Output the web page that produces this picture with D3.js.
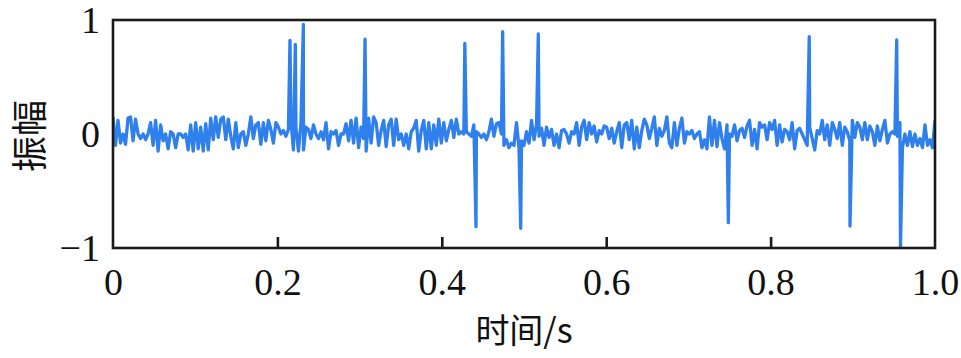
<!DOCTYPE html>
<html><head><meta charset="utf-8">
<script src="https://cdn.jsdelivr.net/npm/d3@7"></script>
<style>body{margin:0;background:#fff}</style>
</head><body><svg id="c" width="961" height="358"></svg>
<script>
// noise samples, evenly spaced from t=0 to t=1
const noise = [
 0.15,-0.1,0.12,-0.08,0,-0.09,0.14,0.15,-0.06,0.13,0,-0.04,0,-0.05,0,0.1,-0.1,0.12,-0.15,0.08,
 -0.06,0,-0.13,0.02,0,-0.12,0,0,-0.03,0,-0.14,0.08,-0.15,0.1,-0.13,0.06,-0.15,0.09,-0.14,0.14,
 -0.05,0.15,-0.03,0.13,0.15,-0.05,0.13,-0.02,-0.13,0.1,-0.12,0,0.02,-0.1,0,0.15,-0.04,0.08,0.1,-0.09,
 0.1,-0.06,0.12,0.04,-0.08,0.1,0.06,0,0.03,-0.02,0.04,0.12,-0.14,0.05,-0.15,0.1,-0.14,0.06,0.04,-0.04,
 0.08,0,-0.04,0.02,-0.05,0.1,-0.13,0.02,0,0.03,-0.1,0,0,0.09,-0.06,0.12,-0.08,0.14,-0.12,0.06,
 -0.04,-0.15,0.14,-0.08,0.15,0.1,-0.1,0.03,0.12,-0.11,0.08,0.13,-0.1,0.13,-0.05,0,-0.1,0,-0.13,0.02,
 0.05,0.12,-0.15,0.03,0.12,-0.13,0.1,-0.13,0.08,-0.1,0.13,-0.08,0.1,-0.06,0.04,0.12,-0.03,0.13,0,0.02,
 0,0.02,0,-0.02,0.08,0.02,0,-0.03,0,-0.05,0.02,0.13,-0.02,0.09,0.1,0,-0.1,-0.05,-0.12,-0.08,
 -0.1,0.1,-0.12,-0.06,-0.1,0.02,-0.08,0.12,-0.05,0.08,-0.02,0.05,-0.1,0.06,-0.03,0.04,-0.1,0,-0.12,0.03,
 0.04,0,-0.08,0.02,0,0.1,-0.1,0.06,0.12,-0.05,0.1,0,0.07,-0.07,0.03,0,0.07,0.06,-0.04,0.05,
 -0.08,0.02,0.1,-0.12,0.08,0.1,-0.05,0.12,-0.13,0.06,-0.12,0.03,0.13,0.08,-0.04,0.05,0.15,-0.1,0.05,-0.02,
 0.03,0.15,-0.08,-0.12,0.1,-0.1,0.05,0.14,-0.08,0.02,0,0.03,-0.04,0,0.02,-0.12,-0.05,-0.13,0.15,-0.1,
 0.12,-0.11,0.1,-0.04,-0.13,0.08,0,-0.02,0.08,-0.06,0.03,0.05,-0.03,0.07,0.12,-0.1,0.04,-0.13,0.1,0.06,
 0.08,-0.05,0.1,0.04,0.12,-0.1,0.08,-0.07,0.04,0.02,-0.05,0.1,-0.13,0.03,0.05,0,-0.05,-0.1,0.06,-0.04,
 -0.14,0.03,0,0.12,-0.05,0.08,-0.1,0.1,0.04,-0.04,0.1,-0.1,0.06,0.02,-0.06,0.12,-0.03,0.1,0.06,-0.05,
 0.1,-0.05,0.07,0.02,-0.1,0.07,-0.06,0.04,0.12,-0.08,0,0.02,0,-0.02,0.1,-0.12,0,-0.1,0.02,-0.11,
 0,-0.1,-0.04,-0.12,0.08,-0.1,-0.05,-0.12,0.12
];
// impulse spikes
const spikeTimes  = [0.2153,0.2218,0.2316,0.3066,0.428,0.4416,0.474,0.496,0.5174,0.7486,0.847,0.8966,0.9534,0.958];
const spikeValues = [0.82,0.787,0.962,0.833,0.795,-0.813,0.897,-0.827,0.877,-0.778,0.854,-0.807,0.825,-1.0];
const xTicks = [0,0.2,0.4,0.6,0.8,1.0];
const xTickLabels = ["0","0.2","0.4","0.6","0.8","1.0"];
const yTicks = [-1,0,1];
const yTickLabels = ["\u22121","0","1"];
const xTitle = "时间/s";
const yTitle = "振幅";

const svg = d3.select("#c");
const L=113,R=935,T=20,B=248;
const x = d3.scaleLinear().domain([0,1]).range([L,R]);
const y = d3.scaleLinear().domain([-1,1]).range([B,T]);

const pts = noise.map((v,i)=>({t:i/(noise.length-1),v}));
spikeTimes.forEach((t,i)=>pts.push({t,v:spikeValues[i]}));
pts.sort((a,b)=>a.t-b.t);

svg.append("clipPath").attr("id","cp").append("rect")
  .attr("x",L).attr("y",T).attr("width",R-L).attr("height",B-T);

svg.append("path").datum(pts)
  .attr("clip-path","url(#cp)")
  .attr("fill","none").attr("stroke","#2f80ed").attr("stroke-width",3.3)
  .attr("stroke-linejoin","round")
  .attr("d",d3.line().x(d=>x(d.t)).y(d=>y(d.v)));

// frame
svg.append("rect").attr("x",L).attr("y",T).attr("width",R-L).attr("height",B-T)
  .attr("fill","none").attr("stroke","#1a1a1a").attr("stroke-width",2.6);

// bottom axis (ticks inward)
const xa = svg.append("g").attr("transform",`translate(0,${B})`)
  .call(d3.axisBottom(x).tickValues(xTicks).tickSizeInner(-11).tickSizeOuter(0)
    .tickFormat((d,i)=>xTickLabels[i]).tickPadding(24));
xa.select(".domain").remove();
xa.selectAll("line").attr("stroke","#1a1a1a").attr("stroke-width",2.6)
  .filter((d)=>d===0||d===1).remove();
xa.selectAll("text").attr("font-family","'Liberation Serif','Times New Roman',serif")
  .attr("font-size",38).attr("fill","#111").attr("dy",null).attr("y",47);

// left axis labels
const ya = svg.append("g").attr("transform",`translate(${L},0)`)
  .call(d3.axisLeft(y).tickValues(yTicks).tickSize(0)
    .tickFormat((d,i)=>yTickLabels[i]).tickPadding(13));
ya.select(".domain").remove();
ya.selectAll("text").attr("font-family","'Liberation Serif','Times New Roman',serif")
  .attr("font-size",38).attr("fill","#111").attr("dy","0.33em");

svg.append("text").attr("x",(L+R)/2).attr("y",343).attr("text-anchor","middle")
  .attr("font-family","'Noto Sans CJK SC',sans-serif").attr("font-size",34).attr("fill","#111")
  .text(xTitle);
svg.append("text").attr("transform",`translate(27,136) rotate(-90)`).attr("text-anchor","middle")
  .attr("dominant-baseline","central")
  .attr("font-family","'Noto Sans CJK SC',sans-serif").attr("font-size",36).attr("fill","#111")
  .text(yTitle);
</script></body></html>
